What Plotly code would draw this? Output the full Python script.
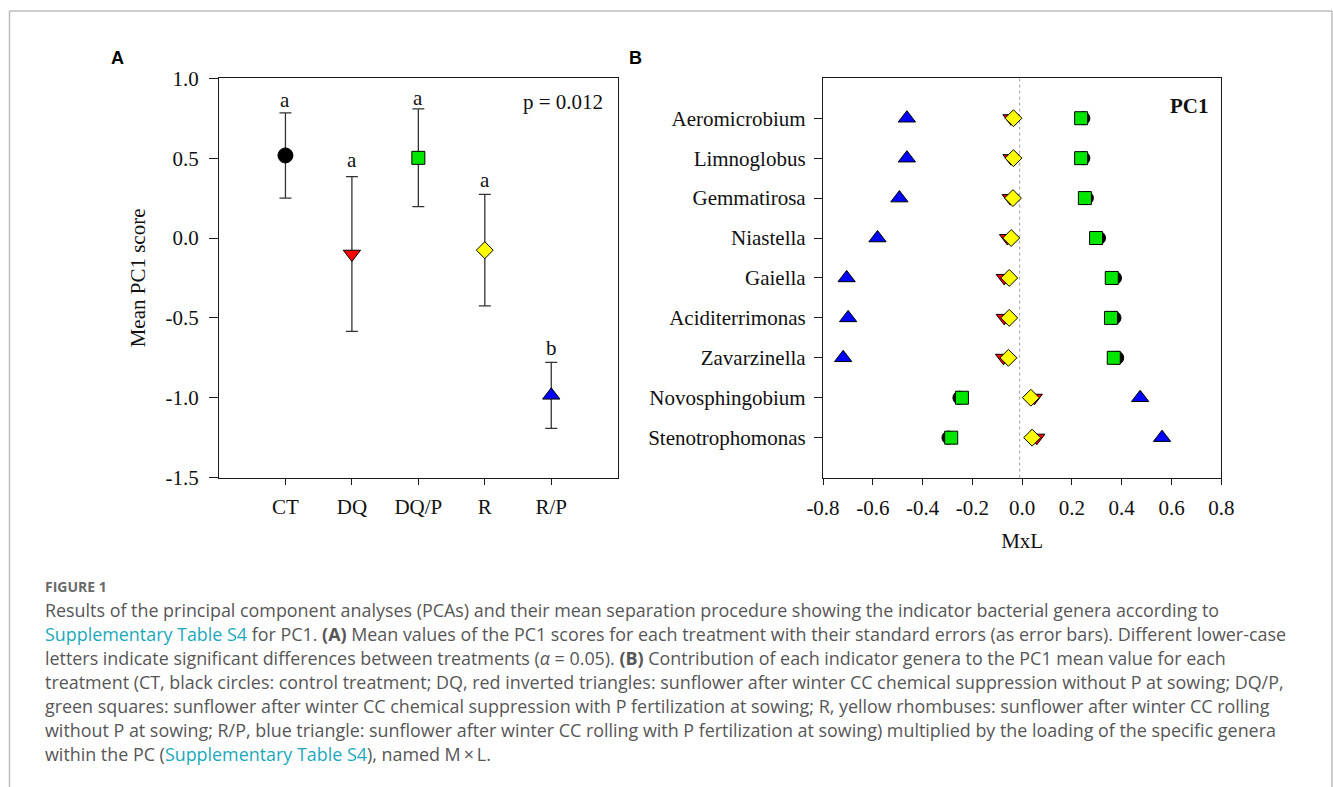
import plotly.graph_objects as go

W, H = 1333, 787

# ---------------- Panel A data ----------------
treatments = ["CT", "DQ", "DQ/P", "R", "R/P"]
mean_pc1 = [0.517, -0.100, 0.502, -0.076, -0.985]
se_pc1 = [0.267, 0.485, 0.306, 0.349, 0.207]
letters = ["a", "a", "a", "a", "b"]
letter_y = [0.861, 0.486, 0.879, 0.365, -0.689]
p_text = "p = 0.012"
a_yticks = [-1.5, -1.0, -0.5, 0.0, 0.5, 1.0]
a_yticklabels = ["-1.5", "-1.0", "-0.5", "0.0", "0.5", "1.0"]

# ---------------- Panel B data ----------------
genera = ["Aeromicrobium", "Limnoglobus", "Gemmatirosa", "Niastella", "Gaiella",
          "Aciditerrimonas", "Zavarzinella", "Novosphingobium", "Stenotrophomonas"]
mxl_CT = [0.246, 0.246, 0.260, 0.309, 0.373, 0.371, 0.382, -0.252, -0.296]
mxl_DQ = [-0.045, -0.045, -0.048, -0.059, -0.072, -0.072, -0.075, 0.049, 0.059]
mxl_DQP = [0.237, 0.237, 0.252, 0.297, 0.360, 0.357, 0.368, -0.242, -0.285]
mxl_R = [-0.035, -0.035, -0.037, -0.044, -0.052, -0.052, -0.055, 0.035, 0.040]
mxl_RP = [-0.463, -0.463, -0.493, -0.581, -0.705, -0.699, -0.719, 0.474, 0.562]
b_xticks = [-0.8, -0.6, -0.4, -0.2, 0.0, 0.2, 0.4, 0.6, 0.8]
b_xticklabels = ["-0.8", "-0.6", "-0.4", "-0.2", "0.0", "0.2", "0.4", "0.6", "0.8"]

# ---------------- styles ----------------
symbols = ["circle", "triangle-down", "square", "diamond", "triangle-up"]
colors = ["#000000", "#ff0000", "#00e600", "#ffff00", "#0000ff"]
sizes_a = [15, 15, 13, 13, 15]
sizes_b = [13, 14, 13, 13, 15]
SERIF = "Liberation Serif, Times New Roman, serif"
AXC = "#1a1a1a"
FS = 21


def px_x(px):
    return px / W


def px_y(py):
    return 1 - py / H


fig = go.Figure()

# Panel A
fig.add_trace(go.Scatter(
    x=treatments, y=mean_pc1, mode="markers",
    error_y=dict(type="data", array=se_pc1, visible=True, color="#333333", thickness=1.3, width=6),
    marker=dict(symbol=symbols, color=colors, size=sizes_a, opacity=1,
                line=dict(color="#000000", width=1)),
    xaxis="x", yaxis="y", showlegend=False, hoverinfo="skip"))

# Panel B
series_b = [mxl_CT, mxl_DQ, mxl_DQP, mxl_R, mxl_RP]
for i, vals in enumerate(series_b):
    fig.add_trace(go.Scatter(
        x=vals, y=genera, mode="markers", name=treatments[i],
        marker=dict(symbol=symbols[i], color=colors[i], size=sizes_b[i], opacity=1,
                    line=dict(color="#000000", width=1)),
        xaxis="x2", yaxis="y2", showlegend=False, hoverinfo="skip"))

ydom = [px_y(477.6), px_y(78.3)]
common = dict(showline=True, linecolor=AXC, linewidth=1.3, mirror=True, showgrid=False,
              zeroline=False, ticks="outside", tickcolor=AXC, tickwidth=1.3, automargin=False,
              tickfont=dict(family=SERIF, size=FS, color="#111111"))

fig.update_layout(
    width=W, height=H, autosize=False,
    margin=dict(l=0, r=0, t=0, b=0, pad=0, autoexpand=False),
    paper_bgcolor="white", plot_bgcolor="white",
    xaxis=dict(domain=[px_x(219), px_x(617.7)], type="category", categoryorder="array",
               categoryarray=treatments, range=[-1, 5], ticklen=6, ticklabelstandoff=4,
               anchor="y", **common),
    yaxis=dict(domain=ydom, range=[-1.5, 1.0], tickvals=a_yticks, ticktext=a_yticklabels,
               ticklen=9, ticklabelstandoff=6, anchor="x",
               title=dict(text="Mean PC1 score", font=dict(family=SERIF, size=FS, color="#111111"),
                          standoff=14),
               **common),
    xaxis2=dict(domain=[px_x(823), px_x(1221.3)], range=[-0.8, 0.8], tickvals=b_xticks,
                ticktext=b_xticklabels, ticklen=6, ticklabelstandoff=5, anchor="y2",
                title=dict(text="MxL", font=dict(family=SERIF, size=FS, color="#111111"),
                           standoff=14),
                **common),
    yaxis2=dict(domain=ydom, type="category", categoryorder="array", categoryarray=genera,
                range=[9, -1], ticklen=8, ticklabelstandoff=4, anchor="x2", **common),
)

# dotted reference line in panel B
fig.add_shape(type="line", xref="x2", yref="y2 domain", x0=-0.01, x1=-0.01, y0=0, y1=1,
              line=dict(color="#a0a0a0", width=1, dash="dot"), layer="below")

ann = []
# significance letters
for t, l, ly in zip(treatments, letters, letter_y):
    ann.append(dict(x=t, y=ly, xref="x", yref="y", text=l, showarrow=False,
                    font=dict(family=SERIF, size=FS, color="#111111"), yanchor="middle"))
ann.append(dict(x=0.968, y=0.94, xref="x domain", yref="y domain", text=p_text, showarrow=False,
                xanchor="right", yanchor="middle", font=dict(family=SERIF, size=FS, color="#111111")))
ann.append(dict(x=0.974, y=0.931, xref="x2 domain", yref="y2 domain", text="<b>PC1</b>",
                showarrow=False, xanchor="right", yanchor="middle",
                font=dict(family=SERIF, size=FS, color="#111111")))
# panel letters
for lab, xp in [("A", 117), ("B", 635)]:
    ann.append(dict(x=px_x(xp), y=px_y(58), xref="paper", yref="paper", text="<b>%s</b>" % lab,
                    showarrow=False, xanchor="center", yanchor="middle",
                    font=dict(family="Liberation Sans, Arial, sans-serif", size=18, color="#000000")))

# caption
LINK = "#1ba8ba"
CAPC = "#565656"
CAPF = "Open Sans, Lato, sans-serif"
sup = '<span style="color:%s">Supplementary Table S4</span>' % LINK
caption_lines = [
    "Results of the principal component analyses (PCAs) and their mean separation procedure showing the indicator bacterial genera according to",
    sup + " for PC1. <b>(A)</b> Mean values of the PC1 scores for each treatment with their standard errors (as error bars). Different lower-case",
    "letters indicate significant differences between treatments (<i>\u03b1</i> = 0.05). <b>(B)</b> Contribution of each indicator genera to the PC1 mean value for each",
    "treatment (CT, black circles: control treatment; DQ, red inverted triangles: sunflower after winter CC chemical suppression without P at sowing; DQ/P,",
    "green squares: sunflower after winter CC chemical suppression with P fertilization at sowing; R, yellow rhombuses: sunflower after winter CC rolling",
    "without P at sowing; R/P, blue triangle: sunflower after winter CC rolling with P fertilization at sowing) multiplied by the loading of the specific genera",
    "within the PC (" + sup + "), named M\u2009\u00d7\u2009L.",
]
ann.append(dict(x=px_x(43), y=px_y(586), xref="paper", yref="paper", text="<b>FIGURE 1</b>",
                showarrow=False, xanchor="left", yanchor="middle",
                font=dict(family=CAPF, size=14, color="#6a6a6a")))
for i, line in enumerate(caption_lines):
    ann.append(dict(x=px_x(43), y=px_y(610 + 24.05 * i), xref="paper", yref="paper", text=line,
                    showarrow=False, xanchor="left", yanchor="middle", align="left",
                    font=dict(family=CAPF, size=17.9, color=CAPC)))
fig.update_layout(annotations=ann)

# outer frame
frame = dict(color="#bdbdbd", width=1.5)
fig.add_shape(type="line", xref="paper", yref="paper", x0=px_x(9.5), x1=px_x(1332), y0=px_y(11), y1=px_y(11), line=frame)
fig.add_shape(type="line", xref="paper", yref="paper", x0=px_x(9.5), x1=px_x(9.5), y0=px_y(11), y1=0, line=frame)
fig.add_shape(type="line", xref="paper", yref="paper", x0=px_x(1332), x1=px_x(1332), y0=px_y(11), y1=0, line=frame)

fig.write_html("out.html", config={"displayModeBar": False},
               post_script="document.body.style.margin='0px';")
